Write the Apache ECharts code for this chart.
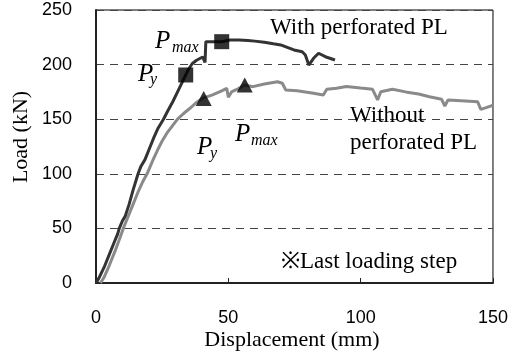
<!DOCTYPE html>
<html>
<head>
<meta charset="utf-8">
<script src="https://cdn.jsdelivr.net/npm/echarts@6/dist/echarts.min.js"></script>
<style>html,body{margin:0;padding:0;background:#fff}#c{width:511px;height:358px}</style>
</head>
<body>
<div id="c"></div>
<script>
var xTicks = [0, 50, 100, 150];
var yTicks = [0, 50, 100, 150, 200, 250];
var withPL = [[0,0],[1,4],[3,14],[5,26],[7,38],[8.2,45],[8.8,50],[10,57],[11,61],[12.5,72],[14,85],[15.9,100],[17,107],[18.5,113],[20,122],[22,134],[23.5,142],[25.5,150],[27,157],[29,166],[31,176],[33,186],[33.9,190.5],[35,196],[36.4,201],[38,204],[40.3,207],[41.2,202],[41.5,221],[43,221],[45,221],[47.5,221],[50.6,222.5],[54,222.5],[57.4,222],[60,221.5],[63.6,220.4],[67,219],[69.8,218],[72,216],[74.8,213.4],[77.9,211.8],[79.1,208.8],[80.4,199.6],[82.2,205.8],[84.1,210.4],[87.2,206.7],[90.3,204.2]];
var withoutPL = [[1.7,0],[3,5],[5,16],[7,28],[9,41],[10.3,50],[12,60],[14,72],[16,84],[17.5,92],[19.3,100],[21.5,112.6],[23.3,122],[25,130],[27,138],[30.8,150],[33,155],[35.5,160],[37.6,164.6],[40.1,169],[43.8,172],[47.5,176],[49.4,178.3],[50,170],[51.2,175],[53,177],[56.2,181.3],[59.3,179.8],[63.6,182.2],[68.6,184.3],[70.4,182.9],[71.7,176.7],[76,176.1],[82.2,173.7],[85.9,172.2],[87.2,177.4],[90.9,178.3],[94.6,180],[100,178.5],[104.5,177.4],[106.4,167.6],[107.6,175.2],[112,177.4],[117,175],[121.9,173.1],[126,170.5],[130.6,168.2],[131.8,162.1],[133,167.6],[138,167],[144.2,166],[145.4,159],[149.1,162],[150,163]];
var withMarkers = [[33.9,190.5],[47.5,221]];
var withoutMarkers = [[40.7,169],[56.2,181.3]];

var serif = '"Times New Roman","Liberation Serif",serif';
var sans = 'Arial,"Liberation Sans",sans-serif';
var chart = echarts.init(document.getElementById('c'), null, {renderer:'canvas'});

function txt(str, x, y, size, italic, extra){
  var o = {type:'text', left:x, top:y, z:100, style:{text:str, font:(italic?'italic ':'')+size+'px '+serif, fill:'#000', textVerticalAlign:'middle'}};
  if (extra) for (var k in extra) o[k]=extra[k];
  return o;
}
function tx(str, x, y, size, italic){
  return {type:'text', x:x, y:y, z:100, style:{text:str, font:(italic?'italic ':'')+size+'px '+serif, fill:'#000', verticalAlign:'middle', align:'left'}};
}

chart.setOption({
  animation:false,
  grid:{left:96, right:13, top:10, bottom:75, show:true, borderColor:'#000', borderWidth:1},
  xAxis:{type:'value', min:xTicks[0], max:xTicks[xTicks.length-1], interval:50,
    axisLine:{show:true, onZero:false, lineStyle:{color:'#222', width:2}},
    axisTick:{show:true, inside:true, length:5, lineStyle:{color:'#222'}},
    axisLabel:{color:'#000', fontSize:18, fontFamily:sans, margin:26},
    splitLine:{show:false}},
  yAxis:{type:'value', min:yTicks[0], max:yTicks[yTicks.length-1], interval:50,
    axisLine:{show:true, onZero:false, lineStyle:{color:'#222', width:2}},
    axisTick:{show:false},
    axisLabel:{color:'#000', fontSize:18, fontFamily:sans, margin:24},
    splitLine:{show:true, lineStyle:{color:'#444', width:1, type:[8,6]}}},
  series:[
    {type:'line', data:withoutPL, showSymbol:false, lineStyle:{color:'#8a8a8a', width:3}, z:3},
    {type:'line', data:withPL, showSymbol:false, lineStyle:{color:'#333', width:3}, z:4},
    {type:'scatter', data:withMarkers, symbol:'rect', symbolSize:15, itemStyle:{color:'#000'}, z:5},
    {type:'scatter', data:withoutMarkers, symbol:'triangle', symbolSize:[16,15], itemStyle:{color:'#000'}, z:5}
  ],
  graphic:[
    tx('With perforated PL', 270, 27.5, 23, false),
    tx('Without', 350, 115.5, 23, false),
    tx('perforated PL', 350, 142.5, 23, false),
    tx('\u203BLast loading step', 281, 262, 23, false),
    tx('P', 155, 41.5, 25, true), tx('max', 172, 47.5, 16, true),
    tx('P', 138, 74.5, 25, true), tx('y', 150, 80, 16, true),
    tx('P', 197, 147.5, 25, true), tx('y', 210, 153.5, 16, true),
    tx('P', 235, 134.5, 25, true), tx('max', 251, 141, 16, true),
    {type:'text', x:292, y:340, z:100, style:{text:'Displacement (mm)', font:'22px '+serif, fill:'#000', align:'center', verticalAlign:'middle'}},
    {type:'text', x:21, y:137, rotation:Math.PI/2, z:100, style:{text:'Load (kN)', font:'22px '+serif, fill:'#000', align:'center', verticalAlign:'middle'}}
  ]
});
</script>
</body>
</html>
